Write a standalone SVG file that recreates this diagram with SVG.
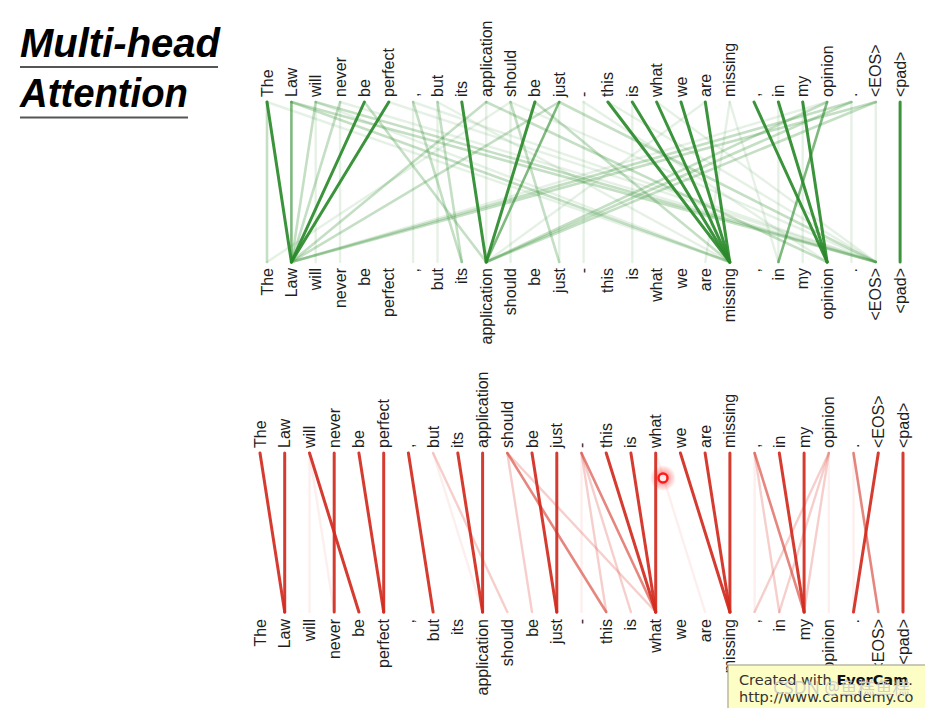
<svg xmlns="http://www.w3.org/2000/svg" width="925" height="708" viewBox="0 0 925 708">
<defs>
<style>
.title{font-family:"Liberation Sans",Arial,sans-serif;font-weight:bold;font-style:italic;font-size:40px;fill:#000}
.lab{font-family:"Liberation Sans",Arial,sans-serif;font-size:16px;fill:#1e1e1e}
.s{text-anchor:start}
.e{text-anchor:end}
.g1{stroke:#2a8a2a;stroke-width:3;stroke-opacity:.92;stroke-linecap:round}
.g2{stroke:#2a8a2a;stroke-width:2.6;stroke-opacity:.6;stroke-linecap:round}
.g3{stroke:#3c963c;stroke-width:2.6;stroke-opacity:.3;stroke-linecap:round}
.g4{stroke:#3c963c;stroke-width:2.4;stroke-opacity:.13;stroke-linecap:round}
.r1{stroke:#d22a1e;stroke-width:3;stroke-opacity:.92;stroke-linecap:round}
.r2{stroke:#d8463a;stroke-width:2.6;stroke-opacity:.65;stroke-linecap:round}
.r3{stroke:#e06055;stroke-width:2.4;stroke-opacity:.3;stroke-linecap:round}
.r4{stroke:#e06055;stroke-width:2.4;stroke-opacity:.1;stroke-linecap:round}
</style>
<radialGradient id="glow">
<stop offset="0" stop-color="#ff2020" stop-opacity=".7"/>
<stop offset="1" stop-color="#ff2020" stop-opacity="0"/>
</radialGradient>
</defs>
<rect width="925" height="708" fill="#ffffff"/>

<g id="title">
<text class="title" x="20" y="57" textLength="200" lengthAdjust="spacingAndGlyphs">Multi-head</text>
<line x1="20" y1="67" x2="218" y2="67" stroke="#555" stroke-width="2"/>
<text class="title" x="20" y="107" textLength="168" lengthAdjust="spacingAndGlyphs">Attention</text>
<line x1="20" y1="117.5" x2="188" y2="117.5" stroke="#555" stroke-width="2"/>
</g>

<g id="connectors">
<g id="green-connectors">
<line class="g4" x1="315.7" y1="102" x2="315.7" y2="262"/>
<line class="g4" x1="340.1" y1="102" x2="340.1" y2="262"/>
<line class="g4" x1="413.1" y1="102" x2="413.1" y2="262"/>
<line class="g4" x1="437.5" y1="102" x2="437.5" y2="262"/>
<line class="g4" x1="486.2" y1="102" x2="486.2" y2="262"/>
<line class="g4" x1="510.5" y1="102" x2="510.5" y2="262"/>
<line class="g4" x1="559.2" y1="102" x2="559.2" y2="262"/>
<line class="g4" x1="583.6" y1="102" x2="583.6" y2="262"/>
<line class="g4" x1="632.3" y1="102" x2="632.3" y2="262"/>
<line class="g4" x1="778.4" y1="102" x2="778.4" y2="262"/>
<line class="g4" x1="802.7" y1="102" x2="802.7" y2="262"/>
<line class="g4" x1="851.4" y1="102" x2="851.4" y2="262"/>
<line class="g4" x1="875.8" y1="102" x2="875.8" y2="262"/>
<line class="g4" x1="340.1" y1="102" x2="875.8" y2="262"/>
<line class="g4" x1="413.1" y1="102" x2="875.8" y2="262"/>
<line class="g4" x1="583.6" y1="102" x2="827.1" y2="262"/>
<line class="g4" x1="729.7" y1="102" x2="705.3" y2="262"/>
<line class="g4" x1="729.7" y1="102" x2="778.4" y2="262"/>
<line class="g4" x1="510.5" y1="102" x2="875.8" y2="262"/>
<line class="g4" x1="607.9" y1="102" x2="875.8" y2="262"/>
<line class="g4" x1="656.6" y1="102" x2="875.8" y2="262"/>
<line class="g4" x1="315.7" y1="102" x2="729.7" y2="262"/>
<line class="g4" x1="388.8" y1="102" x2="875.8" y2="262"/>
<line class="g4" x1="437.5" y1="102" x2="729.7" y2="262"/>
<line class="g4" x1="267" y1="102" x2="729.7" y2="262"/>
<line class="g4" x1="827.1" y1="102" x2="291.4" y2="262"/>
<line class="g4" x1="705.3" y1="102" x2="486.2" y2="262"/>
<line class="g4" x1="510.5" y1="102" x2="267" y2="262"/>
<line class="g3" x1="315.7" y1="102" x2="875.8" y2="262"/>
<line class="g3" x1="291.4" y1="102" x2="729.7" y2="262"/>
<line class="g3" x1="291.4" y1="102" x2="875.8" y2="262"/>
<line class="g3" x1="486.2" y1="102" x2="291.4" y2="262"/>
<line class="g3" x1="559.2" y1="102" x2="291.4" y2="262"/>
<line class="g3" x1="851.4" y1="102" x2="291.4" y2="262"/>
<line class="g3" x1="875.8" y1="102" x2="291.4" y2="262"/>
<line class="g3" x1="851.4" y1="102" x2="486.2" y2="262"/>
<line class="g3" x1="875.8" y1="102" x2="486.2" y2="262"/>
<line class="g3" x1="827.1" y1="102" x2="486.2" y2="262"/>
<line class="g3" x1="413.1" y1="102" x2="461.8" y2="262"/>
<line class="g3" x1="437.5" y1="102" x2="461.8" y2="262"/>
<line class="g3" x1="364.4" y1="102" x2="486.2" y2="262"/>
<line class="g3" x1="510.5" y1="102" x2="559.2" y2="262"/>
<line class="g3" x1="534.9" y1="102" x2="729.7" y2="262"/>
<line class="g3" x1="486.2" y1="102" x2="827.1" y2="262"/>
<line class="g3" x1="559.2" y1="102" x2="875.8" y2="262"/>
<line class="g3" x1="340.1" y1="102" x2="291.4" y2="262"/>
<line class="g3" x1="315.7" y1="102" x2="291.4" y2="262"/>
<line class="g3" x1="267" y1="102" x2="267" y2="262"/>
<line class="g2" x1="291.4" y1="102" x2="291.4" y2="262"/>
<line class="g2" x1="559.2" y1="102" x2="486.2" y2="262"/>
<line class="g2" x1="827.1" y1="102" x2="778.4" y2="262"/>
<line class="g1" x1="267" y1="102" x2="291.4" y2="262"/>
<line class="g1" x1="364.4" y1="102" x2="291.4" y2="262"/>
<line class="g1" x1="388.8" y1="102" x2="291.4" y2="262"/>
<line class="g1" x1="461.8" y1="102" x2="486.2" y2="262"/>
<line class="g1" x1="534.9" y1="102" x2="486.2" y2="262"/>
<line class="g1" x1="607.9" y1="102" x2="729.7" y2="262"/>
<line class="g1" x1="632.3" y1="102" x2="729.7" y2="262"/>
<line class="g1" x1="656.6" y1="102" x2="729.7" y2="262"/>
<line class="g1" x1="681" y1="102" x2="729.7" y2="262"/>
<line class="g1" x1="705.3" y1="102" x2="729.7" y2="262"/>
<line class="g1" x1="754" y1="102" x2="827.1" y2="262"/>
<line class="g1" x1="778.4" y1="102" x2="827.1" y2="262"/>
<line class="g1" x1="802.7" y1="102" x2="827.1" y2="262"/>
<line class="g1" x1="900.1" y1="102" x2="900.1" y2="262"/>
</g>
<g id="red-connectors">
<line class="r4" x1="309.5" y1="453" x2="334.2" y2="612"/>
<line class="r4" x1="754.6" y1="453" x2="754.6" y2="612"/>
<line class="r4" x1="853.5" y1="453" x2="853.5" y2="612"/>
<line class="r4" x1="581.5" y1="453" x2="581.5" y2="612"/>
<line class="r4" x1="828.8" y1="453" x2="828.8" y2="612"/>
<line class="r4" x1="309.5" y1="453" x2="309.5" y2="612"/>
<line class="r4" x1="433.1" y1="453" x2="482.6" y2="612"/>
<line class="r4" x1="655.7" y1="453" x2="705.1" y2="612"/>
<line class="r3" x1="433.1" y1="453" x2="507.3" y2="612"/>
<line class="r3" x1="507.3" y1="453" x2="532" y2="612"/>
<line class="r3" x1="507.3" y1="453" x2="655.7" y2="612"/>
<line class="r3" x1="581.5" y1="453" x2="630.9" y2="612"/>
<line class="r3" x1="581.5" y1="453" x2="606.2" y2="612"/>
<line class="r3" x1="828.8" y1="453" x2="779.3" y2="612"/>
<line class="r3" x1="828.8" y1="453" x2="754.6" y2="612"/>
<line class="r3" x1="828.8" y1="453" x2="804.1" y2="612"/>
<line class="r3" x1="754.6" y1="453" x2="779.3" y2="612"/>
<line class="r2" x1="581.5" y1="453" x2="655.7" y2="612"/>
<line class="r2" x1="754.6" y1="453" x2="804.1" y2="612"/>
<line class="r2" x1="853.5" y1="453" x2="878.3" y2="612"/>
<line class="r2" x1="507.3" y1="453" x2="606.2" y2="612"/>
<line class="r1" x1="260" y1="453" x2="284.7" y2="612"/>
<line class="r1" x1="284.7" y1="453" x2="284.7" y2="612"/>
<line class="r1" x1="309.5" y1="453" x2="358.9" y2="612"/>
<line class="r1" x1="334.2" y1="453" x2="334.2" y2="612"/>
<line class="r1" x1="358.9" y1="453" x2="383.7" y2="612"/>
<line class="r1" x1="383.7" y1="453" x2="383.7" y2="612"/>
<line class="r1" x1="408.4" y1="453" x2="433.1" y2="612"/>
<line class="r1" x1="457.8" y1="453" x2="482.6" y2="612"/>
<line class="r1" x1="482.6" y1="453" x2="482.6" y2="612"/>
<line class="r1" x1="532" y1="453" x2="556.8" y2="612"/>
<line class="r1" x1="556.8" y1="453" x2="556.8" y2="612"/>
<line class="r1" x1="606.2" y1="453" x2="655.7" y2="612"/>
<line class="r1" x1="630.9" y1="453" x2="655.7" y2="612"/>
<line class="r1" x1="655.7" y1="453" x2="655.7" y2="612"/>
<line class="r1" x1="680.4" y1="453" x2="729.9" y2="612"/>
<line class="r1" x1="705.1" y1="453" x2="729.9" y2="612"/>
<line class="r1" x1="729.9" y1="453" x2="729.9" y2="612"/>
<line class="r1" x1="779.3" y1="453" x2="804.1" y2="612"/>
<line class="r1" x1="804.1" y1="453" x2="804.1" y2="612"/>
<line class="r1" x1="878.3" y1="453" x2="853.5" y2="612"/>
<line class="r1" x1="903" y1="453" x2="903" y2="612"/>
</g>
</g>

<g id="green-source-tokens">
<g id="gs0"><text class="lab s" transform="translate(272.5,97) rotate(-90)">The</text></g>
<g id="gs1"><text class="lab s" transform="translate(296.9,97) rotate(-90)">Law</text></g>
<g id="gs2"><text class="lab s" transform="translate(321.2,97) rotate(-90)">will</text></g>
<g id="gs3"><text class="lab s" transform="translate(345.6,97) rotate(-90)">never</text></g>
<g id="gs4"><text class="lab s" transform="translate(369.9,97) rotate(-90)">be</text></g>
<g id="gs5"><text class="lab s" transform="translate(394.3,97) rotate(-90)">perfect</text></g>
<g id="gs6"><text class="lab s" transform="translate(418.6,97) rotate(-90)">,</text></g>
<g id="gs7"><text class="lab s" transform="translate(443,97) rotate(-90)">but</text></g>
<g id="gs8"><text class="lab s" transform="translate(467.3,97) rotate(-90)">its</text></g>
<g id="gs9"><text class="lab s" transform="translate(491.7,97) rotate(-90)">application</text></g>
<g id="gs10"><text class="lab s" transform="translate(516,97) rotate(-90)">should</text></g>
<g id="gs11"><text class="lab s" transform="translate(540.4,97) rotate(-90)">be</text></g>
<g id="gs12"><text class="lab s" transform="translate(564.7,97) rotate(-90)">just</text></g>
<g id="gs13"><text class="lab s" transform="translate(589.1,97) rotate(-90)">-</text></g>
<g id="gs14"><text class="lab s" transform="translate(613.4,97) rotate(-90)">this</text></g>
<g id="gs15"><text class="lab s" transform="translate(637.8,97) rotate(-90)">is</text></g>
<g id="gs16"><text class="lab s" transform="translate(662.1,97) rotate(-90)">what</text></g>
<g id="gs17"><text class="lab s" transform="translate(686.5,97) rotate(-90)">we</text></g>
<g id="gs18"><text class="lab s" transform="translate(710.8,97) rotate(-90)">are</text></g>
<g id="gs19"><text class="lab s" transform="translate(735.2,97) rotate(-90)">missing</text></g>
<g id="gs20"><text class="lab s" transform="translate(759.5,97) rotate(-90)">,</text></g>
<g id="gs21"><text class="lab s" transform="translate(783.9,97) rotate(-90)">in</text></g>
<g id="gs22"><text class="lab s" transform="translate(808.2,97) rotate(-90)">my</text></g>
<g id="gs23"><text class="lab s" transform="translate(832.6,97) rotate(-90)">opinion</text></g>
<g id="gs24"><text class="lab s" transform="translate(856.9,97) rotate(-90)">.</text></g>
<g id="gs25"><text class="lab s" transform="translate(881.3,97) rotate(-90)">&lt;EOS&gt;</text></g>
<g id="gs26"><text class="lab s" transform="translate(905.6,97) rotate(-90)">&lt;pad&gt;</text></g>
</g>

<g id="green-target-tokens">
<g id="gt0"><text class="lab e" transform="translate(272.5,268) rotate(-90)">The</text></g>
<g id="gt1"><text class="lab e" transform="translate(296.9,268) rotate(-90)">Law</text></g>
<g id="gt2"><text class="lab e" transform="translate(321.2,268) rotate(-90)">will</text></g>
<g id="gt3"><text class="lab e" transform="translate(345.6,268) rotate(-90)">never</text></g>
<g id="gt4"><text class="lab e" transform="translate(369.9,268) rotate(-90)">be</text></g>
<g id="gt5"><text class="lab e" transform="translate(394.3,268) rotate(-90)">perfect</text></g>
<g id="gt6"><text class="lab e" transform="translate(418.6,268) rotate(-90)">,</text></g>
<g id="gt7"><text class="lab e" transform="translate(443,268) rotate(-90)">but</text></g>
<g id="gt8"><text class="lab e" transform="translate(467.3,268) rotate(-90)">its</text></g>
<g id="gt9"><text class="lab e" transform="translate(491.7,268) rotate(-90)">application</text></g>
<g id="gt10"><text class="lab e" transform="translate(516,268) rotate(-90)">should</text></g>
<g id="gt11"><text class="lab e" transform="translate(540.4,268) rotate(-90)">be</text></g>
<g id="gt12"><text class="lab e" transform="translate(564.7,268) rotate(-90)">just</text></g>
<g id="gt13"><text class="lab e" transform="translate(589.1,268) rotate(-90)">-</text></g>
<g id="gt14"><text class="lab e" transform="translate(613.4,268) rotate(-90)">this</text></g>
<g id="gt15"><text class="lab e" transform="translate(637.8,268) rotate(-90)">is</text></g>
<g id="gt16"><text class="lab e" transform="translate(662.1,268) rotate(-90)">what</text></g>
<g id="gt17"><text class="lab e" transform="translate(686.5,268) rotate(-90)">we</text></g>
<g id="gt18"><text class="lab e" transform="translate(710.8,268) rotate(-90)">are</text></g>
<g id="gt19"><text class="lab e" transform="translate(735.2,268) rotate(-90)">missing</text></g>
<g id="gt20"><text class="lab e" transform="translate(759.5,268) rotate(-90)">,</text></g>
<g id="gt21"><text class="lab e" transform="translate(783.9,268) rotate(-90)">in</text></g>
<g id="gt22"><text class="lab e" transform="translate(808.2,268) rotate(-90)">my</text></g>
<g id="gt23"><text class="lab e" transform="translate(832.6,268) rotate(-90)">opinion</text></g>
<g id="gt24"><text class="lab e" transform="translate(856.9,268) rotate(-90)">.</text></g>
<g id="gt25"><text class="lab e" transform="translate(881.3,268) rotate(-90)">&lt;EOS&gt;</text></g>
<g id="gt26"><text class="lab e" transform="translate(905.6,268) rotate(-90)">&lt;pad&gt;</text></g>
</g>

<g id="red-source-tokens">
<g id="rs0"><text class="lab s" transform="translate(265.5,448) rotate(-90)">The</text></g>
<g id="rs1"><text class="lab s" transform="translate(290.2,448) rotate(-90)">Law</text></g>
<g id="rs2"><text class="lab s" transform="translate(315,448) rotate(-90)">will</text></g>
<g id="rs3"><text class="lab s" transform="translate(339.7,448) rotate(-90)">never</text></g>
<g id="rs4"><text class="lab s" transform="translate(364.4,448) rotate(-90)">be</text></g>
<g id="rs5"><text class="lab s" transform="translate(389.2,448) rotate(-90)">perfect</text></g>
<g id="rs6"><text class="lab s" transform="translate(413.9,448) rotate(-90)">,</text></g>
<g id="rs7"><text class="lab s" transform="translate(438.6,448) rotate(-90)">but</text></g>
<g id="rs8"><text class="lab s" transform="translate(463.3,448) rotate(-90)">its</text></g>
<g id="rs9"><text class="lab s" transform="translate(488.1,448) rotate(-90)">application</text></g>
<g id="rs10"><text class="lab s" transform="translate(512.8,448) rotate(-90)">should</text></g>
<g id="rs11"><text class="lab s" transform="translate(537.5,448) rotate(-90)">be</text></g>
<g id="rs12"><text class="lab s" transform="translate(562.3,448) rotate(-90)">just</text></g>
<g id="rs13"><text class="lab s" transform="translate(587,448) rotate(-90)">-</text></g>
<g id="rs14"><text class="lab s" transform="translate(611.7,448) rotate(-90)">this</text></g>
<g id="rs15"><text class="lab s" transform="translate(636.4,448) rotate(-90)">is</text></g>
<g id="rs16"><text class="lab s" transform="translate(661.2,448) rotate(-90)">what</text></g>
<g id="rs17"><text class="lab s" transform="translate(685.9,448) rotate(-90)">we</text></g>
<g id="rs18"><text class="lab s" transform="translate(710.6,448) rotate(-90)">are</text></g>
<g id="rs19"><text class="lab s" transform="translate(735.4,448) rotate(-90)">missing</text></g>
<g id="rs20"><text class="lab s" transform="translate(760.1,448) rotate(-90)">,</text></g>
<g id="rs21"><text class="lab s" transform="translate(784.8,448) rotate(-90)">in</text></g>
<g id="rs22"><text class="lab s" transform="translate(809.6,448) rotate(-90)">my</text></g>
<g id="rs23"><text class="lab s" transform="translate(834.3,448) rotate(-90)">opinion</text></g>
<g id="rs24"><text class="lab s" transform="translate(859,448) rotate(-90)">.</text></g>
<g id="rs25"><text class="lab s" transform="translate(883.8,448) rotate(-90)">&lt;EOS&gt;</text></g>
<g id="rs26"><text class="lab s" transform="translate(908.5,448) rotate(-90)">&lt;pad&gt;</text></g>
</g>

<g id="red-target-tokens">
<g id="rt0"><text class="lab e" transform="translate(265.5,619) rotate(-90)">The</text></g>
<g id="rt1"><text class="lab e" transform="translate(290.2,619) rotate(-90)">Law</text></g>
<g id="rt2"><text class="lab e" transform="translate(315,619) rotate(-90)">will</text></g>
<g id="rt3"><text class="lab e" transform="translate(339.7,619) rotate(-90)">never</text></g>
<g id="rt4"><text class="lab e" transform="translate(364.4,619) rotate(-90)">be</text></g>
<g id="rt5"><text class="lab e" transform="translate(389.2,619) rotate(-90)">perfect</text></g>
<g id="rt6"><text class="lab e" transform="translate(413.9,619) rotate(-90)">,</text></g>
<g id="rt7"><text class="lab e" transform="translate(438.6,619) rotate(-90)">but</text></g>
<g id="rt8"><text class="lab e" transform="translate(463.3,619) rotate(-90)">its</text></g>
<g id="rt9"><text class="lab e" transform="translate(488.1,619) rotate(-90)">application</text></g>
<g id="rt10"><text class="lab e" transform="translate(512.8,619) rotate(-90)">should</text></g>
<g id="rt11"><text class="lab e" transform="translate(537.5,619) rotate(-90)">be</text></g>
<g id="rt12"><text class="lab e" transform="translate(562.3,619) rotate(-90)">just</text></g>
<g id="rt13"><text class="lab e" transform="translate(587,619) rotate(-90)">-</text></g>
<g id="rt14"><text class="lab e" transform="translate(611.7,619) rotate(-90)">this</text></g>
<g id="rt15"><text class="lab e" transform="translate(636.4,619) rotate(-90)">is</text></g>
<g id="rt16"><text class="lab e" transform="translate(661.2,619) rotate(-90)">what</text></g>
<g id="rt17"><text class="lab e" transform="translate(685.9,619) rotate(-90)">we</text></g>
<g id="rt18"><text class="lab e" transform="translate(710.6,619) rotate(-90)">are</text></g>
<g id="rt19"><text class="lab e" transform="translate(735.4,619) rotate(-90)">missing</text></g>
<g id="rt20"><text class="lab e" transform="translate(760.1,619) rotate(-90)">,</text></g>
<g id="rt21"><text class="lab e" transform="translate(784.8,619) rotate(-90)">in</text></g>
<g id="rt22"><text class="lab e" transform="translate(809.6,619) rotate(-90)">my</text></g>
<g id="rt23"><text class="lab e" transform="translate(834.3,619) rotate(-90)">opinion</text></g>
<g id="rt24"><text class="lab e" transform="translate(859,619) rotate(-90)">.</text></g>
<g id="rt25"><text class="lab e" transform="translate(883.8,619) rotate(-90)">&lt;EOS&gt;</text></g>
<g id="rt26"><text class="lab e" transform="translate(908.5,619) rotate(-90)">&lt;pad&gt;</text></g>
</g>

<g id="cursor">
<circle cx="663" cy="478" r="13" fill="url(#glow)"/>
<circle cx="663" cy="478" r="4.5" fill="#ffe8e8" stroke="#ff1a1a" stroke-width="2.5"/>
</g>

<g id="watermark">
<rect x="728" y="665" width="200" height="46" fill="#fdfdc6" stroke="#a8a890" stroke-width="1.2"/>
<text x="739" y="685" font-family="'DejaVu Sans',Verdana,sans-serif" font-size="14.5" fill="#333">Created with <tspan font-weight="bold" fill="#111">EverCam</tspan>.</text>
<text x="739" y="702" font-family="'DejaVu Sans',Verdana,sans-serif" font-size="14.5" fill="#333">http://www.camdemy.co</text>
<text x="773" y="694" font-family="'Noto Sans','Noto Sans CJK SC',sans-serif" font-size="17.5" fill="#c8c8c8" fill-opacity=".85">CSDN @鱼糕鱼糕</text>
</g>
</svg>
